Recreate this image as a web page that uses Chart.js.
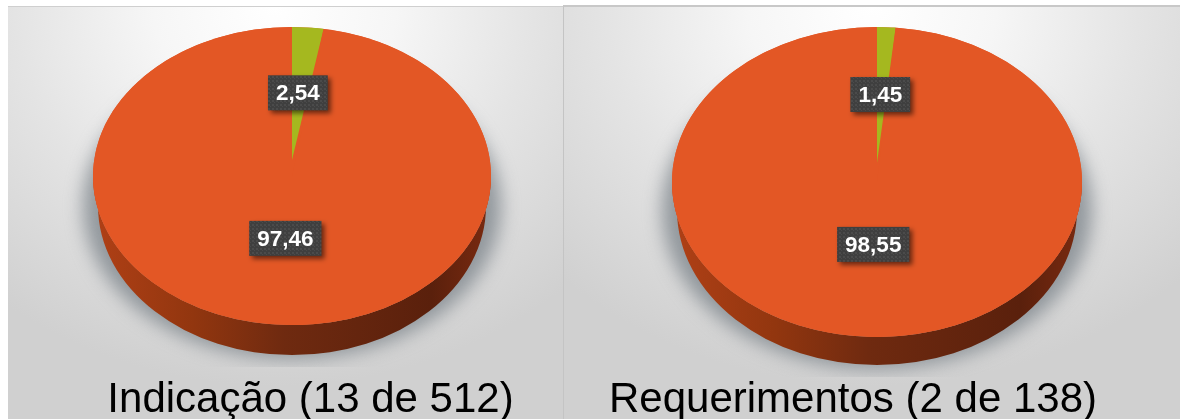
<!DOCTYPE html>
<html>
<head>
<meta charset="utf-8">
<script src="https://cdn.jsdelivr.net/npm/chart.js@4.4.0/dist/chart.umd.min.js"></script>
<style>
html,body{margin:0;padding:0;width:1180px;height:419px;overflow:hidden;background:#fff}
.panel{position:absolute;box-sizing:border-box}
#p1{left:8px;top:6px;width:555px;height:413px;border-top:1px solid #cfcfcf;
  background:radial-gradient(ellipse 78% 92% at 48% 0%,#fff 0%,#f6f6f6 28%,#e4e4e4 60%,#d0d0d0 100%)}
#p2{left:563px;top:5px;width:617px;height:414px;border-top:2px solid #c8c8c8;border-left:1px solid #c4c4c4;
  background:radial-gradient(ellipse 72% 92% at 50% 0%,#fff 0%,#f6f6f6 28%,#e4e4e4 60%,#d0d0d0 100%)}
canvas{position:absolute;top:0}
#c1{left:0}
#c2{left:563px}
</style>
</head>
<body>
<div class="panel" id="p1"></div>
<div class="panel" id="p2"></div>
<canvas id="c1" width="621" height="432"></canvas>
<canvas id="c2" width="580" height="432"></canvas>
<script>
// data
const sliceNames=['Com parecer','Demais'];
const indicacao=[2.54,97.46];
const requerimentos=[1.45,98.55];
const titles=['Indicação (13 de 512)','Requerimentos (2 de 138)'];
const sliceColors=['#a5b81f','#e35725'];

// maps an arc of the library onto the tilted disc
function place(ctx,arc,cx,cy,rx,ry){
  ctx.translate(cx,cy);
  ctx.scale(rx/arc.outerRadius,ry/arc.outerRadius);
  ctx.translate(-arc.x,-arc.y);
}

// faint dots of the value boxes
function dotPattern(ctx){
  const c=document.createElement('canvas');c.width=c.height=4;
  const d=c.getContext('2d');
  d.fillStyle='#3f3f3f';d.fillRect(0,0,4,4);
  d.fillStyle='#4b4b4b';d.fillRect(0,0,2,2);d.fillRect(2,2,1,1);
  return ctx.createPattern(c,'repeat');
}

const discPlugin={
  id:'disc',
  beforeDatasetsDraw(chart,args,o){
    const ctx=chart.ctx,arcs=chart.getDatasetMeta(0).data,arc=arcs[0];
    ctx.save();
    // shadow on the backdrop
    ctx.save();
    ctx.beginPath();ctx.rect(0,0,chart.width,o.shadowEnd);ctx.clip();
    ctx.filter='blur(9px)';
    ctx.fillStyle='rgba(120,128,135,.75)';
    ctx.beginPath();ctx.ellipse(o.cx,o.cy+o.depth,o.rx+10,o.ry+4,0,0,Math.PI*2);ctx.fill();
    ctx.restore();
    // side wall
    const g=ctx.createLinearGradient(o.cx-o.rx,0,o.cx+o.rx,0);
    g.addColorStop(0,'#b04016');g.addColorStop(.25,'#92360f');g.addColorStop(.48,'#6f2a10');
    g.addColorStop(.85,'#5a200c');g.addColorStop(1,'#7a2a10');
    ctx.fillStyle=g;
    ctx.beginPath();
    ctx.ellipse(o.cx,o.cy+o.depth,o.rx-5,o.ry,0,0,Math.PI);
    ctx.lineTo(o.cx-o.rx,o.cy);
    ctx.ellipse(o.cx,o.cy,o.rx,o.ry,0,Math.PI,0,true);
    ctx.closePath();ctx.fill();
    // top face under the slices
    ctx.fillStyle=sliceColors[1];
    ctx.beginPath();ctx.ellipse(o.cx,o.cy,o.rx,o.ry,0,0,Math.PI*2);ctx.fill();
    // the small slice has its tip above the middle of the ellipse (perspective)
    arc.draw=function(c){
      c.save();
      c.setTransform(1,0,0,1,0,0);
      place(c,this,o.cx,o.tipY,o.rx,o.tipY-o.top);
      Chart.ArcElement.prototype.draw.call(this,c);
      c.restore();
    };
    place(ctx,arc,o.cx,o.cy,o.rx,o.ry);
  },
  afterDatasetsDraw(chart,args,o){
    const ctx=chart.ctx,vals=chart.data.datasets[0].data;
    ctx.restore();
    const dots=dotPattern(ctx);
    chart.getDatasetMeta(0).data.forEach((arc,i)=>{
      const a=(arc.startAngle+arc.endAngle)/2;
      const x=o.cx+Math.cos(a)*o.rx*o.labelAt[i]+o.labelDx[i];
      const y=o.cy+Math.sin(a)*o.ry*o.labelAt[i];
      const txt=vals[i].toFixed(2).replace('.',',');
      ctx.save();
      ctx.font='bold 22.5px "Liberation Sans"';
      const w=ctx.measureText(txt).width+16,h=35;
      ctx.shadowColor='rgba(0,0,0,.55)';ctx.shadowBlur=5;ctx.shadowOffsetX=3;ctx.shadowOffsetY=3;
      ctx.fillStyle=dots;
      ctx.fillRect(x-w/2,y-h/2,w,h);
      ctx.shadowColor='transparent';
      ctx.fillStyle='#fff';ctx.textAlign='center';ctx.textBaseline='middle';
      ctx.fillText(txt,x,y+1);
      ctx.restore();
    });
  }
};

function mkChart(id,values,title,disc){
  return new Chart(document.getElementById(id).getContext('2d'),{
    type:'pie',
    data:{labels:sliceNames,datasets:[{data:values,backgroundColor:sliceColors,borderWidth:0,clip:false}]},
    options:{
      responsive:false,animation:false,
      plugins:{
        legend:{display:false},tooltip:{enabled:false},
        title:{display:true,text:title,position:'bottom',color:'#000',
          font:{family:'"Liberation Sans"',size:42,weight:'normal'},padding:{top:4,bottom:6}},
        disc
      }
    },
    plugins:[discPlugin]
  });
}

mkChart('c1',indicacao,titles[0],{cx:292,cy:176,rx:199,ry:149,depth:30,top:27,tipY:160,shadowEnd:367,labelAt:[.56,.42],labelDx:[-3,0]});
mkChart('c2',requerimentos,titles[1],{cx:314,cy:182,rx:205,ry:155,depth:28,top:27,tipY:163,shadowEnd:377,labelAt:[.565,.403],labelDx:[-2,0]});
</script>
</body>
</html>
